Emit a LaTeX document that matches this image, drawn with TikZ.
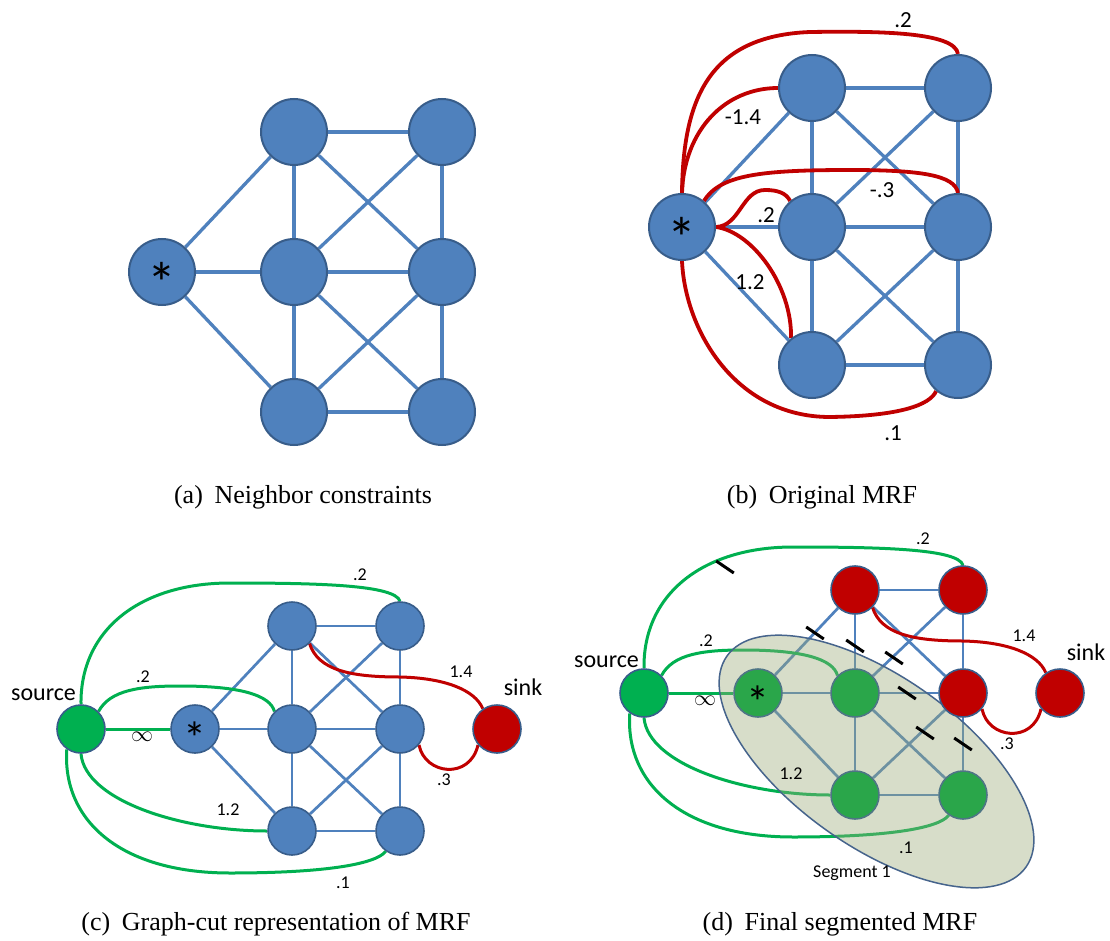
\documentclass[tikz,border=0pt]{standalone}
\usepackage{fontspec}
\setmainfont{Liberation Serif}
\newfontfamily\lab{Carlito}
\usepackage{graphicx}
\pgfdeclarelayer{backdrop}
\pgfdeclarelayer{wires}
\pgfdeclarelayer{veil}
\pgfsetlayers{backdrop,wires,veil,main}

\definecolor{mrfblue}{HTML}{4F81BD}
\definecolor{mrfrim}{HTML}{385D8A}
\definecolor{edgeblue}{HTML}{4F81BD}
\definecolor{sinkred}{HTML}{C00000}
\definecolor{srcgreen}{HTML}{00B050}
\definecolor{seggreen}{RGB}{42,166,74}
\definecolor{segrim}{RGB}{78,117,133}
\definecolor{segfill}{RGB}{155,170,120}
\definecolor{segline}{RGB}{70,100,140}

\newcommand{\starmark}[1]{\fontsize{#1}{#1}\lab\smash{\raisebox{-0.55em}{*}}}

\tikzset{
  mrfbig/.style={circle, inner sep=0pt, minimum size=66pt, line width=2pt, draw=mrfrim, fill=mrfblue},
  mrfsmall/.style={circle, inner sep=0pt, minimum size=48pt, line width=1.6pt, draw=mrfrim, fill=mrfblue},
  srcnode/.style={mrfsmall, fill=srcgreen},
  sinknode/.style={mrfsmall, fill=sinkred},
  segnode/.style={mrfsmall, fill=seggreen, draw=segrim},
  edgeA/.style={draw=edgeblue, line width=3.3pt},
  edgeC/.style={draw=edgeblue, line width=2.7pt},
  redA/.style={draw=sinkred, line width=3.8pt},
  greenC/.style={draw=srcgreen, line width=3pt},
  redC/.style={draw=sinkred, line width=3pt},
  wtA/.style={font=\fontsize{23}{23}\selectfont\lab, inner sep=0pt},
  wtC/.style={font=\fontsize{18}{18}\selectfont\lab, inner sep=0pt},
  term/.style={font=\fontsize{24}{24}\selectfont\lab, inner sep=0pt, anchor=base},
  subcap/.style={font=\fontsize{26}{26}\selectfont, inner sep=0pt, anchor=base},
  cutmark/.style={line width=3pt, draw=black},
}

\begin{document}
\begin{tikzpicture}[x=1pt,y=-1pt]
\useasboundingbox (0,0) rectangle (1110,941);
\begin{pgfonlayer}{backdrop}
  \fill[white] (0,0) rectangle (1110,941);
\end{pgfonlayer}

% ---------- (a) neighbour constraints ----------
\node[mrfbig] (a0) at (162,272) {\starmark{58}};
\node[mrfbig] (a1) at (294,132) {};
\node[mrfbig] (a2) at (442,132) {};
\node[mrfbig] (a3) at (294,272) {};
\node[mrfbig] (a4) at (442,272) {};
\node[mrfbig] (a5) at (294,412) {};
\node[mrfbig] (a6) at (442,412) {};

% ---------- (b) original MRF ----------
\node[mrfbig] (b0) at (682,227) {\starmark{58}};
\node[mrfbig] (b1) at (812,88) {};
\node[mrfbig] (b2) at (958,88) {};
\node[mrfbig] (b3) at (812,227) {};
\node[mrfbig] (b4) at (958,227) {};
\node[mrfbig] (b5) at (812,365) {};
\node[mrfbig] (b6) at (958,365) {};

% ---------- (c) graph-cut representation ----------
\node[srcnode]  (cs) at (81,729) {};
\node[mrfsmall] (c0) at (195,729) {\starmark{46}};
\node[mrfsmall] (c1) at (292,626) {};
\node[mrfsmall] (c2) at (400,626) {};
\node[mrfsmall] (c3) at (292,729) {};
\node[mrfsmall] (c4) at (400,729) {};
\node[mrfsmall] (c5) at (292,831) {};
\node[mrfsmall] (c6) at (400,831) {};
\node[sinknode] (ck) at (497,729) {};

% ---------- (d) final segmentation ----------
\node[srcnode]  (ds) at (644,693) {};
\node[segnode]  (d0) at (758,693) {\starmark{46}};
\node[sinknode] (d1) at (855,590) {};
\node[sinknode] (d2) at (963,590) {};
\node[segnode]  (d3) at (855,693) {};
\node[sinknode] (d4) at (963,693) {};
\node[segnode]  (d5) at (855,795) {};
\node[segnode]  (d6) at (963,795) {};
\node[sinknode] (dk) at (1060,693) {};

\begin{pgfonlayer}{wires}
  % pairwise neighbour edges, the same in every panel
  \foreach \u/\v in {0/1,0/3,0/5,1/2,1/3,1/4,2/3,2/4,3/4,3/5,3/6,4/5,4/6,5/6}{
    \draw[edgeA] (a\u) -- (a\v);
    \draw[edgeA] (b\u) -- (b\v);
    \draw[edgeC] (c\u) -- (c\v);
    \draw[edgeC] (d\u) -- (d\v);
  }

  % (b) weighted links from the seed node
  \draw[redA] (b0.north) .. controls (683,100) and (708,36) .. (810,32) .. controls (880,31) and (955,32) .. (b2.north);
  \draw[redA] (b0.north) .. controls (684,130) and (725,88) .. (b1.west);
  \draw[redA] (b0.50) .. controls (720,175) and (760,170) .. (850,170) .. controls (920,170) and (955,175) .. (b4.north);
  \draw[redA] (b0.east) .. controls (740,226) and (742,190) .. (765,190) .. controls (778,190) and (786,193) .. (b3.130);
  \draw[redA] (b0.east) .. controls (752,232) and (792,285) .. (b5.128);
  \draw[redA] (b0.south) .. controls (685,330) and (735,417) .. (830,417) .. controls (900,416) and (930,405) .. (b6.230);

  % (c) terminal links
  \draw[greenC] (cs.north) .. controls (80,630) and (140,583) .. (230,583) .. controls (320,583) and (395,585) .. (c2.north);
  \draw[greenC] (cs.45) .. controls (110,690) and (140,686) .. (180,686) .. controls (240,686) and (270,695) .. (c3.135);
  \draw[greenC] (cs.east) -- (c0.west);
  \draw[greenC] (cs.south) .. controls (85,800) and (180,831) .. (c5.west);
  \draw[greenC] (cs.235) .. controls (62,820) and (120,873) .. (230,873) .. controls (320,873) and (375,865) .. (c6.235);
  \draw[redC] (c1.315) .. controls (318,670) and (350,677) .. (400,677) .. controls (445,678) and (475,690) .. (ck.125);
  \draw[redC] (c4.320) .. controls (425,775) and (470,780) .. (ck.220);

  % (d) terminal links, same routing shifted
  \begin{scope}[shift={(563,-36)}]
    \draw[greenC] (ds.north) .. controls (80,630) and (140,583) .. (230,583) .. controls (320,583) and (395,585) .. (d2.north);
    \draw[greenC] (ds.45) .. controls (110,690) and (140,686) .. (180,686) .. controls (240,686) and (270,695) .. (d3.135);
    \draw[greenC] (ds.east) -- (d0.west);
    \draw[greenC] (ds.south) .. controls (85,800) and (180,831) .. (d5.west);
    \draw[greenC] (ds.235) .. controls (62,820) and (120,873) .. (230,873) .. controls (320,873) and (375,865) .. (d6.235);
    \draw[redC] (d1.315) .. controls (318,670) and (350,677) .. (400,677) .. controls (445,678) and (475,690) .. (dk.125);
    \draw[redC] (d4.320) .. controls (425,775) and (470,780) .. (dk.220);
  \end{scope}
\end{pgfonlayer}

% segment region of (d)
\begin{pgfonlayer}{veil}
  \fill[segfill, fill opacity=0.4, rotate around={-35.2:(876.5,761.5)}] (876.5,761.5) ellipse [x radius=183pt, y radius=85pt];
  \draw[segline, line width=1.5pt, rotate around={-35.2:(876.5,761.5)}] (876.5,761.5) ellipse [x radius=183pt, y radius=85pt];
\end{pgfonlayer}

% cut marks
\draw[cutmark] (716.2,561) -- (733.8,573);
\draw[cutmark] (806.2,627) -- (823.8,639);
\draw[cutmark] (846.2,640) -- (863.8,652);
\draw[cutmark] (885.2,652) -- (902.8,664);
\draw[cutmark] (898.2,687) -- (915.8,699);
\draw[cutmark] (916.2,727) -- (933.8,739);
\draw[cutmark] (954.2,738) -- (971.8,750);

% weights in (b)
\node[wtA] (wb1) at (903,20) {.2};
\node[wtA] (wb2) at (743,117) {-1.4};
\node[wtA] (wb3) at (882,190) {-.3};
\node[wtA] (wb4) at (766,215) {.2};
\node[wtA] (wb5) at (750,282) {1.2};
\node[wtA] (wb6) at (893,433) {.1};

% weights and terminals in (c)
\node[wtC] (wc1) at (360,575) {.2};
\node[wtC] (wc2) at (143,677) {.2};
\node[inner sep=0pt] (wc3) at (142,737) {\scalebox{2.2}{$\infty$}};
\node[wtC] (wc4) at (228,810) {1.2};
\node[wtC] (wc5) at (343,883) {.1};
\node[wtC] (wc6) at (461,672) {1.4};
\node[wtC] (wc7) at (444,780) {.3};
\node[term] (tcs) at (43.5,700) {source};
\node[term] (tck) at (523,695) {sink};

% weights and terminals in (d)
\node[wtC] (wd1) at (923,539) {.2};
\node[wtC] (wd2) at (706,641) {.2};
\node[inner sep=0pt] (wd3) at (705,701) {\scalebox{2.2}{$\infty$}};
\node[wtC] (wd4) at (791,774) {1.2};
\node[wtC] (wd5) at (906,848) {.1};
\node[wtC] (wd6) at (1024,636) {1.4};
\node[wtC] (wd7) at (1007,744) {.3};
\node[term] (tds) at (606.5,667) {source};
\node[term] (tdk) at (1086,660) {sink};
\node[wtC] (seg) at (852,873) {Segment 1};

% sub-captions
\node[subcap] (capa) at (303,503) {(a)\hspace{0.45em}Neighbor constraints};
\node[subcap] (capb) at (822,503) {(b)\hspace{0.45em}Original MRF};
\node[subcap] (capc) at (276,930) {(c)\hspace{0.45em}Graph-cut representation of MRF};
\node[subcap] (capd) at (840,930) {(d)\hspace{0.45em}Final segmented MRF};
\end{tikzpicture}
\end{document}
